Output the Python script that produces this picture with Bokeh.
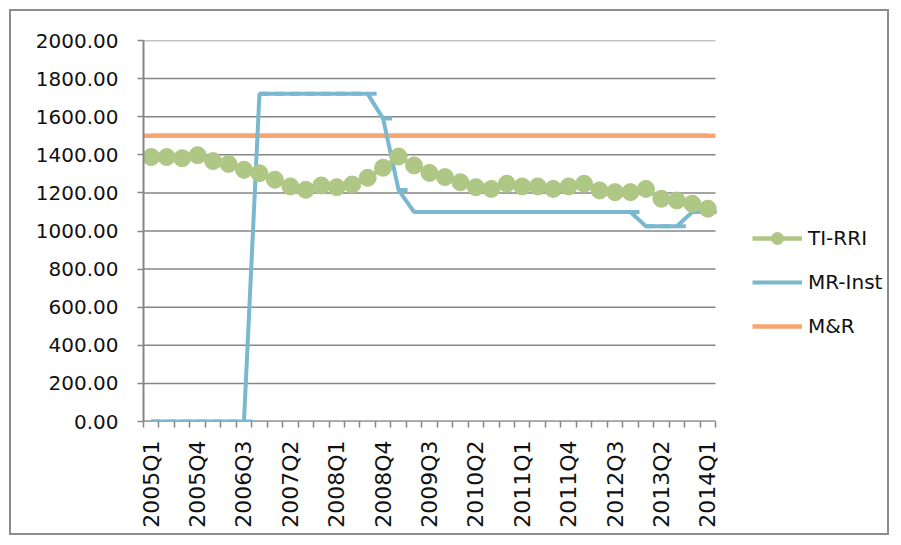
import math
from bokeh.plotting import figure
from bokeh.models import (Range1d, FixedTicker, Legend, LegendItem,
                          NumeralTickFormatter, ColumnDataSource)
from bokeh.transform import dodge
from bokeh.embed import file_html
from bokeh.resources import INLINE

quarters = ["2005Q1", "2005Q2", "2005Q3", "2005Q4",
            "2006Q1", "2006Q2", "2006Q3", "2006Q4",
            "2007Q1", "2007Q2", "2007Q3", "2007Q4",
            "2008Q1", "2008Q2", "2008Q3", "2008Q4",
            "2009Q1", "2009Q2", "2009Q3", "2009Q4",
            "2010Q1", "2010Q2", "2010Q3", "2010Q4",
            "2011Q1", "2011Q2", "2011Q3", "2011Q4",
            "2012Q1", "2012Q2", "2012Q3", "2012Q4",
            "2013Q1", "2013Q2", "2013Q3", "2013Q4",
            "2014Q1"]

ti_rri = [1388, 1388, 1382, 1398, 1367, 1352, 1321, 1303, 1269, 1234,
          1216, 1239, 1230, 1244, 1279, 1332, 1391, 1344, 1305, 1283,
          1256, 1230, 1221, 1248, 1234, 1234, 1221, 1234, 1248, 1213,
          1204, 1204, 1221, 1169, 1160, 1143, 1117]

mr_inst = [0, 0, 0, 0, 0, 0, 0, 1720, 1720, 1720,
           1720, 1720, 1720, 1720, 1720, 1590, 1215, 1100, 1100, 1100,
           1100, 1100, 1100, 1100, 1100, 1100, 1100, 1100, 1100, 1100,
           1100, 1100, 1025, 1025, 1025, 1100, 1100]

m_and_r = [1500] * 37

y_ticks = [0, 200, 400, 600, 800, 1000, 1200, 1400, 1600, 1800, 2000]
label_every = 3

GREEN = "#aec784"
BLUE = "#79b8cf"
ORANGE = "#f8a572"
GRAY = "#868686"
FONT = "DejaVu Sans"

n = len(quarters)
xs = list(range(n))
src = ColumnDataSource(dict(x=xs, ti=ti_rri, mr=mr_inst, mar=m_and_r))

# layout: plotting area 572 px wide; the frame is extended to the right
# so the legend (drawn inside the frame) sits beside the plotting area
PLOT_W = 572
FRAME_W = 744
x_start = -0.5
x_plot_end = n - 0.5
x_end = x_start + (x_plot_end - x_start) * FRAME_W / PLOT_W

p = figure(frame_width=FRAME_W, frame_height=381,
           min_border_left=132, min_border_top=29,
           min_border_right=0, min_border_bottom=112,
           x_range=Range1d(x_start, x_end),
           y_range=Range1d(y_ticks[0], y_ticks[-1]),
           output_backend="svg", toolbar_location=None)
p.margin = (9, 0, 0, 9)
p.styles = {"border": "2px solid #8c8c8c"}
p.outline_line_color = None
p.background_fill_color = "white"
p.border_fill_color = "white"
p.xgrid.visible = False
p.ygrid.visible = False

# horizontal gridlines limited to the plotting area (the 0 line is the x axis line)
p.segment(x0=[x_start] * len(y_ticks), x1=[x_plot_end] * len(y_ticks),
          y0=y_ticks, y1=y_ticks, line_color=GRAY, line_width=1.5)

# y axis
p.yaxis.ticker = FixedTicker(ticks=y_ticks)
p.yaxis.formatter = NumeralTickFormatter(format="0.00")
p.yaxis.axis_line_color = GRAY
p.yaxis.axis_line_width = 2
p.yaxis.major_tick_line_color = GRAY
p.yaxis.major_tick_line_width = 1.5
p.yaxis.major_tick_out = 6
p.yaxis.major_tick_in = 0
p.yaxis.minor_tick_line_color = None
p.yaxis.major_label_standoff = 19
p.yaxis.major_label_text_font = FONT
p.yaxis.major_label_text_font_size = "20px"
p.yaxis.major_label_text_color = "#111111"

# x axis
label_idx = list(range(0, n, label_every))
p.xaxis.ticker = FixedTicker(ticks=label_idx,
                             minor_ticks=[i - 0.5 for i in range(n + 1)])
p.xaxis.major_label_overrides = {i: quarters[i] for i in label_idx}
p.xaxis.major_label_orientation = math.pi / 2
p.xaxis.axis_line_color = None
p.xaxis.major_tick_line_color = None
p.xaxis.major_tick_out = 6
p.xaxis.major_tick_in = 0
p.xaxis.minor_tick_line_color = GRAY
p.xaxis.minor_tick_line_width = 1.5
p.xaxis.minor_tick_out = 6
p.xaxis.minor_tick_in = 0
p.xaxis.major_label_standoff = 13
p.xaxis.major_label_text_font = FONT
p.xaxis.major_label_text_font_size = "22px"
p.xaxis.major_label_text_color = "#111111"
p.segment(x0=[x_start], x1=[x_plot_end], y0=[y_ticks[0]], y1=[y_ticks[0]],
          line_color=GRAY, line_width=2)

# M&R constant line across the full plotting width
p.segment(x0=[x_start], x1=[x_plot_end], y0=[m_and_r[0]], y1=[m_and_r[-1]],
          line_color=ORANGE, line_width=4.5)
ol = p.line("x", "mar", source=src, line_color=ORANGE, line_width=4.5)

# MR-Inst
bl = p.line("x", "mr", source=src, line_color=BLUE, line_width=4)
p.scatter(x=dodge("x", 0.29, range=p.x_range), y="mr", source=src,
          marker="dash", size=9, line_color=BLUE, line_width=4)

# TI-RRI
gl = p.line("x", "ti", source=src, line_color=GREEN, line_width=4.5)
gs = p.scatter("x", "ti", source=src, marker="circle", size=17,
               fill_color=GREEN, line_color=GREEN)

legend = Legend(items=[LegendItem(label="TI-RRI", renderers=[gl, gs]),
                       LegendItem(label="MR-Inst", renderers=[bl]),
                       LegendItem(label="M&R", renderers=[ol])],
                location=(609, 80), glyph_width=50, glyph_height=30,
                label_height=20, spacing=14, padding=0, margin=0,
                label_standoff=6, border_line_color=None,
                background_fill_alpha=0,
                label_text_font=FONT, label_text_font_size="20px",
                label_text_color="#111111")
p.add_layout(legend)

open("out.html", "w").write(file_html(p, INLINE))
